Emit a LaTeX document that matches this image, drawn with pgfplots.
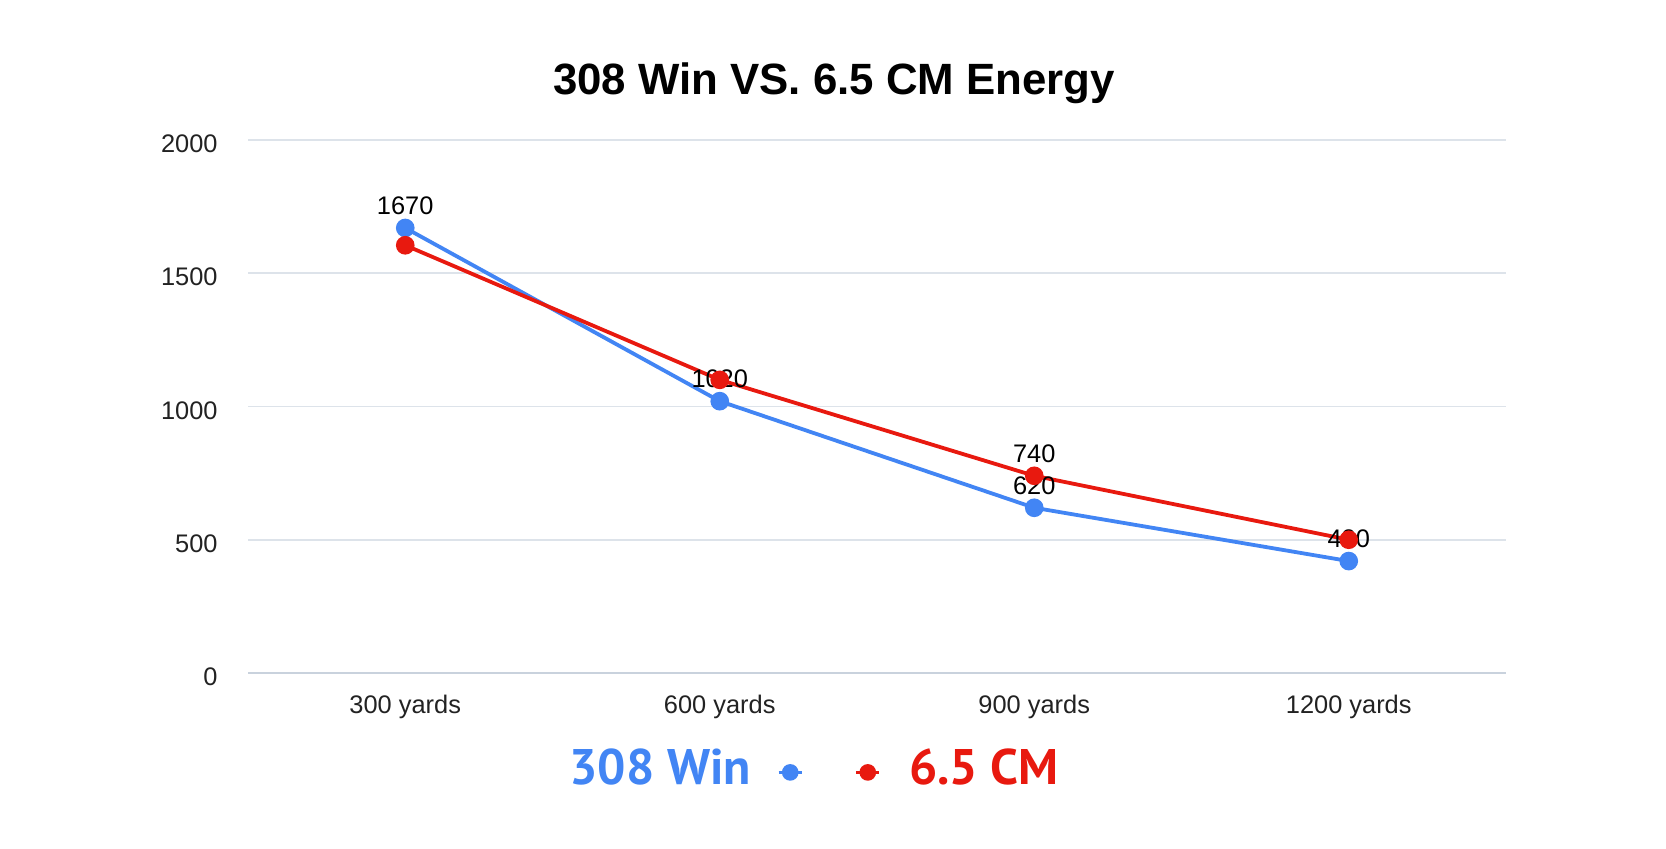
\documentclass[border=0pt]{standalone}
\usepackage{pgfplots}
\pgfplotsset{compat=1.18}
\usepackage{fontspec}
\setmainfont{Liberation Sans}
\newfontfamily\legfont{PT Sans}
\definecolor{cblue}{HTML}{4285F4}
\definecolor{cred}{HTML}{E8190F}
\definecolor{gridc}{HTML}{DDE3EA}
\definecolor{basec}{HTML}{C9D2DD}
\definecolor{tickc}{HTML}{222222}
\begin{document}
\begin{tikzpicture}[x=1pt,y=1pt]
\path[fill=white] (0,0) rectangle (833,424);
\node[font=\fontsize{21.9}{24}\selectfont\bfseries] at (417,382.6) {308 Win VS. 6.5 CM Energy};
\begin{axis}[
  at={(124pt,87.5pt)}, anchor=south west,
  scale only axis, width=629pt, height=266.5pt,
  xmin=-0.5, xmax=3.5, ymin=0, ymax=2000,
  clip=false,
  axis line style={draw=none},
  major tick length=0pt,
  xtick={0,1,2,3},
  xticklabels={300 yards,600 yards,900 yards,1200 yards},
  ytick={0,500,1000,1500,2000},
  ymajorgrids, grid style={draw=gridc, line width=0.8pt},
  extra y ticks={0}, extra y tick labels={},
  extra y tick style={grid style={draw=basec, line width=1.1pt}},
  /pgf/number format/assume math mode=true,
  /pgf/number format/1000 sep={},
  every tick label/.append style={font=\fontsize{12.7}{15}\selectfont, text=tickc, inner sep=0pt},
  yticklabel style={anchor=east, xshift=-15pt, yshift=-2pt},
  xticklabel style={anchor=north, yshift=-11pt},
  nodes near coords style={font=\fontsize{12.7}{15}\selectfont, text=black, anchor=south, inner sep=0pt, yshift=5.8pt},
  legend image code/.code={\draw[mark repeat=2,mark phase=2,#1] plot coordinates {(0pt,0pt) (5.75pt,0pt) (11.5pt,0pt)};},
  legend style={draw=none, fill=none, at={(0.4817,-0.1865)}, anchor=west, inner sep=0pt,
    nodes={inner sep=0pt}, /tikz/every odd column/.append style={column sep=14pt}},
]
\addplot[forget plot, cblue, line width=1.9pt, mark=*, mark size=3.7pt, nodes near coords, point meta=y]
  coordinates {(0,1670) (1,1020) (2,620) (3,420)};
\addplot[forget plot, cred, line width=1.9pt, mark=*, mark size=3.7pt, mark options={fill=cred}, nodes near coords, point meta=explicit symbolic]
  coordinates {(0,1605) [] (1,1100) [] (2,740) [740] (3,500) []};
\addlegendimage{cred, line width=1.9pt, mark=*, mark size=3.2pt, mark options={fill=cred}}
\addlegendentry{\raisebox{4pt}{\legfont\fontsize{25}{30}\selectfont\bfseries\textcolor{cred}{6.5 CM}}}
\end{axis}
\begin{axis}[
  at={(124pt,87.5pt)}, anchor=south west,
  scale only axis, width=629pt, height=266.5pt,
  xmin=0, xmax=1, ymin=0, ymax=1, hide axis,
  legend plot pos=right,
  legend image code/.code={\draw[mark repeat=2,mark phase=2,#1] plot coordinates {(0pt,0pt) (5.75pt,0pt) (11.5pt,0pt)};},
  legend style={draw=none, fill=none, at={(0.442,-0.1865)}, anchor=east, inner sep=0pt,
    nodes={inner sep=0pt}, /tikz/every odd column/.append style={column sep=13pt}},
]
\addlegendimage{cblue, line width=1.9pt, mark=*, mark size=3.2pt, mark options={fill=cblue}}
\addlegendentry{\raisebox{4pt}{\legfont\fontsize{25}{30}\selectfont\bfseries\textcolor{cblue}{308 Win}}}
\end{axis}
\end{tikzpicture}
\end{document}
